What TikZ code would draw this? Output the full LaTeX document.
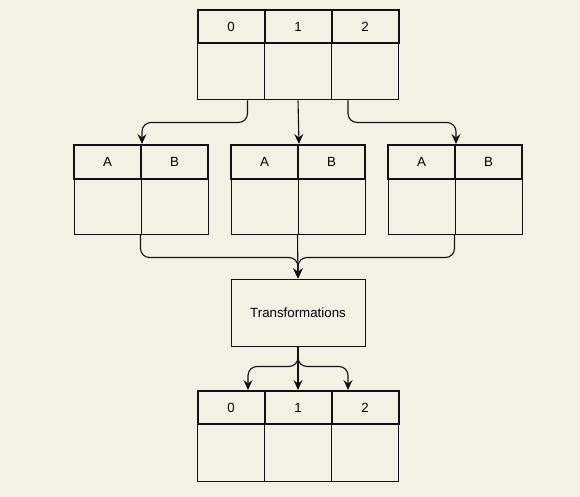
\documentclass[tikz,border=0pt]{standalone}
\usepackage{fontspec}
\setmainfont{Liberation Sans}
\usetikzlibrary{arrows.meta,calc}
\definecolor{paper}{HTML}{F4F1E4}
\definecolor{ink}{HTML}{111111}
\tikzset{
  hdr/.style={draw=ink, line width=2pt, minimum width=67pt, minimum height=33pt, inner sep=0pt,
    text height=9.5pt, text depth=0pt, font=\fontsize{13.3}{15}\selectfont},
  bodycell/.style={draw=ink, line width=1pt, minimum width=67pt, minimum height=56pt, inner sep=0pt},
  procbox/.style={draw=ink, line width=1pt, minimum width=134pt, minimum height=67pt, inner sep=0pt, font=\fontsize{13.3}{15}\selectfont},
  conn/.style={draw=ink, line width=1.1pt, rounded corners=9pt, -{Stealth[length=10pt,width=9pt,inset=3.5pt]}}
}
\begin{document}
\begin{tikzpicture}[x=1pt,y=-1pt]
\fill[paper] (0,0) rectangle (580,497);
\useasboundingbox (0,0) rectangle (580,497);

% source table
\foreach \i/\x in {0/231,1/298,2/365}{
  \node[bodycell, minimum height=57pt] (tb\i) at (\x,71.5) {};
}
\foreach \i/\x in {0/231,1/298,2/365}{
  \node[hdr] (th\i) at (\x,26.5) {\i};
}

% three intermediate tables
\foreach \n/\x in {l/107.5,m/264.5,r/421.5}{
  \node[bodycell, minimum height=55pt] (\n bA) at (\x,206.5) {};
  \node[bodycell, minimum height=55pt] (\n bB) at (\x+67,206.5) {};
  \node[hdr, minimum height=34pt] (\n A) at (\x,162) {A};
  \node[hdr, minimum height=34pt] (\n B) at (\x+67,162) {B};
}

% processing step
\node[procbox] (trans) at (298,312.5) {Transformations};

% result table
\foreach \i/\x in {0/231,1/298,2/365}{
  \node[bodycell, minimum height=57pt] (bb\i) at (\x,452.5) {};
}
\foreach \i/\x in {0/231,1/298,2/365}{
  \node[hdr] (bh\i) at (\x,407.5) {\i};
}

% split into the intermediate tables
\draw[conn] ($(tb0.south)+(16.5,0)$) -- ++(0,22) -| (lA.north east);
\draw[conn] (tb1.south) -- (mA.north east);
\draw[conn] ($(tb2.south)+(-17,0)$) -- ++(0,22) -| (rA.north east);

% merge into the processing step
\draw[conn] (lbB.south west) -- ++(0,23) -| (trans.north);
\draw[conn] (mbB.south west) -- (trans.north);
\draw[conn] (rbB.south west) -- ++(0,23) -| (trans.north);

% fan out into the result table
\draw[conn] (trans.south) -- ++(0,20) -| ($(bh0.north)+(17,0)$);
\draw[conn] (trans.south) -- (bh1.north);
\draw[conn] (trans.south) -- ++(0,20) -| ($(bh2.north)+(-17,0)$);
\end{tikzpicture}
\end{document}
